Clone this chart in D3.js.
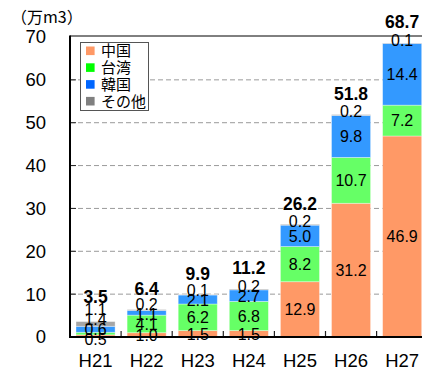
<!DOCTYPE html>
<html>
<head>
<meta charset="utf-8">
<script src="https://cdn.jsdelivr.net/npm/d3@7"></script>
<style>
  html, body { margin: 0; padding: 0; background: #fff; }
  svg { display: block; }
</style>
</head>
<body>
<svg id="chart" width="422" height="371"></svg>
<script>
// Fiscal years (Heisei) and import volumes by origin, in 10,000 m3
const categories = ["H21", "H22", "H23", "H24", "H25", "H26", "H27"];
const china  = [0.5, 1.0, 1.5, 1.5, 12.9, 31.2, 46.9];
const taiwan = [0.6, 4.1, 6.2, 6.8, 8.2, 10.7, 7.2];
const korea  = [1.4, 1.1, 2.1, 2.7, 5.0, 9.8, 14.4];
const other  = [1.1, 0.2, 0.1, 0.2, 0.2, 0.2, 0.1];
const totals = [3.5, 6.4, 9.9, 11.2, 26.2, 51.8, 68.7];
const seriesNames = ["中国", "台湾", "韓国", "その他"];
const yTicks = [0, 10, 20, 30, 40, 50, 60, 70];
const unitLabel = "（万m3）";

const barColors    = ["#FF9966", "#66FF66", "#3399FF", "#A6A6A6"];
const legendColors = ["#FF9966", "#00FF00", "#0066FF", "#808080"];
const numFont = "'Liberation Sans', Arial, sans-serif";
const narrowFont = "'Liberation Sans Narrow', 'Arial Narrow', 'Liberation Sans', sans-serif";
const jpFont = "'Noto Sans CJK JP', sans-serif";

const svg = d3.select("#chart");
const plotLeft = 70, plotTop = 37, plotBottom = 337, bandStep = 51.1;

const x = d3.scaleBand()
  .domain(categories)
  .range([plotLeft, plotLeft + bandStep * categories.length])
  .paddingInner(0.235)
  .paddingOuter(0.1175);

const y = d3.scaleLinear().domain([0, 70]).range([plotBottom, plotTop]);

// Stack the four origins
const rows = categories.map((c, i) => ({
  cat: c, china: china[i], taiwan: taiwan[i], korea: korea[i], other: other[i], total: totals[i]
}));
const keys = ["china", "taiwan", "korea", "other"];
const stacked = d3.stack().keys(keys)(rows);

// Dashed gridlines
svg.append("g")
  .selectAll("line")
  .data(yTicks.filter(v => v > 0 && v < 70))
  .join("line")
  .attr("x1", plotLeft).attr("x2", 422)
  .attr("y1", d => y(d)).attr("y2", d => y(d))
  .attr("stroke", "#9a9a9a")
  .attr("stroke-width", 1)
  .attr("stroke-dasharray", "5,3");

// Bars
svg.append("g")
  .selectAll("g")
  .data(stacked)
  .join("g")
  .attr("fill", (d, i) => barColors[i])
  .selectAll("rect")
  .data(d => d)
  .join("rect")
  .attr("x", d => x(d.data.cat))
  .attr("width", x.bandwidth())
  .attr("y", d => y(d[1]))
  .attr("height", d => y(d[0]) - y(d[1]))
  .attr("stroke", "rgba(255,255,255,0.45)")
  .attr("stroke-width", 0.8);

// Y axis labels and inward ticks
const yAxis = d3.axisLeft(y).tickValues(yTicks).tickSize(0).tickPadding(24);
const yg = svg.append("g").attr("transform", `translate(${plotLeft},0)`).call(yAxis);
yg.select(".domain").remove();
yg.selectAll("text")
  .attr("font-family", numFont)
  .attr("font-size", 18.5)
  .attr("fill", "#000");
svg.append("g")
  .selectAll("line")
  .data(yTicks.filter(v => v > 0 && v < 70))
  .join("line")
  .attr("x1", plotLeft).attr("x2", plotLeft + 6)
  .attr("y1", d => y(d)).attr("y2", d => y(d))
  .attr("stroke", "#222").attr("stroke-width", 1);

// X axis: category labels and inward ticks at band boundaries
const xAxis = d3.axisBottom(x).tickSize(0).tickPadding(17);
const xg = svg.append("g").attr("transform", `translate(0,${plotBottom})`).call(xAxis);
xg.select(".domain").remove();
xg.selectAll("text")
  .attr("font-family", numFont)
  .attr("font-size", 18.5)
  .attr("fill", "#000");
svg.append("g")
  .selectAll("line")
  .data(categories.slice(1))
  .join("line")
  .attr("x1", d => x(d) - x.step() * x.paddingInner() / 2)
  .attr("x2", d => x(d) - x.step() * x.paddingInner() / 2)
  .attr("y1", plotBottom).attr("y2", plotBottom - 6)
  .attr("stroke", "#222").attr("stroke-width", 1.2);

// Plot frame
svg.append("line").attr("x1", plotLeft).attr("x2", 422).attr("y1", plotTop - 1).attr("y2", plotTop - 1)
  .attr("stroke", "#000").attr("stroke-width", 1);
svg.append("line").attr("x1", plotLeft).attr("x2", plotLeft).attr("y1", plotTop - 1.5).attr("y2", plotBottom + 1)
  .attr("stroke", "#000").attr("stroke-width", 2);
svg.append("line").attr("x1", plotLeft - 1).attr("x2", 422).attr("y1", plotBottom).attr("y2", plotBottom)
  .attr("stroke", "#000").attr("stroke-width", 2.2);

// Value labels: segment values at segment centres, the small "other" value at the
// bar top and the bold total above; overlapping labels are spread apart in clusters.
function dodge(items, maxY) {
  const clusters = [];
  items.forEach(it => {
    clusters.push({ members: [it], offs: [0], base: it.want });
    while (clusters.length > 1) {
      const lo = clusters[clusters.length - 2], hi = clusters[clusters.length - 1];
      const loTop = lo.base - lo.offs[lo.offs.length - 1];
      const hiBottom = hi.base;
      const gap = lo.members[lo.members.length - 1].half + hi.members[0].half;
      if (hiBottom > loTop - gap) {
        const startOff = lo.offs[lo.offs.length - 1] + gap;
        hi.offs.forEach(o => lo.offs.push(startOff + o));
        hi.members.forEach(m => lo.members.push(m));
        lo.base = Math.min(d3.mean(lo.members, (m, j) => m.want + lo.offs[j]), maxY);
        clusters.pop();
      } else break;
    }
  });
  clusters.forEach(c => c.members.forEach((m, j) => { m.pos = c.base - c.offs[j]; }));
  return items;
}

const labels = [];
rows.forEach((r, i) => {
  const cx = x(r.cat) + x.bandwidth() / 2;
  const segs = keys.map((k, j) => stacked[j][i]);
  const items = [
    { text: china[i].toFixed(1),  want: y((segs[0][0] + segs[0][1]) / 2), half: 5, bold: false },
    { text: taiwan[i].toFixed(1), want: y((segs[1][0] + segs[1][1]) / 2), half: 5, bold: false },
    { text: korea[i].toFixed(1),  want: y((segs[2][0] + segs[2][1]) / 2), half: 5, bold: false },
    { text: other[i].toFixed(1),  want: y(segs[3][1]) - 3, half: 5, bold: false },
    { text: totals[i].toFixed(1), want: y(segs[3][1]) - 21, half: 7, bold: true }
  ];
  dodge(items, 339).forEach(it => { it.x = cx; labels.push(it); });
});

svg.append("g")
  .selectAll("text")
  .data(labels)
  .join("text")
  .attr("x", d => d.x)
  .attr("y", d => d.pos)
  .attr("dy", "0.36em")
  .attr("text-anchor", "middle")
  .attr("font-family", d => d.bold ? numFont : narrowFont)
  .attr("font-size", d => d.bold ? 17.5 : 16)
  .attr("font-weight", d => d.bold ? "bold" : "normal")
  .attr("fill", "#000")
  .text(d => d.text);

// Unit label
svg.append("text")
  .attr("x", 11).attr("y", 23)
  .attr("font-family", jpFont)
  .attr("font-size", 16)
  .attr("fill", "#000")
  .text(unitLabel);

// Legend
const lg = svg.append("g");
lg.append("rect")
  .attr("x", 80.5).attr("y", 42.5).attr("width", 68).attr("height", 68)
  .attr("fill", "#fff").attr("stroke", "#555").attr("stroke-width", 1);
const li = lg.selectAll("g.item")
  .data(seriesNames)
  .join("g")
  .attr("class", "item")
  .attr("transform", (d, i) => `translate(86,${50.8 + i * 16.8})`);
li.append("rect")
  .attr("x", 0).attr("y", -4.3).attr("width", 8.6).attr("height", 8.6)
  .attr("fill", (d, i) => legendColors[i]);
li.append("text")
  .attr("x", 15).attr("y", 0).attr("dy", "0.36em")
  .attr("font-family", jpFont)
  .attr("font-size", 15)
  .attr("fill", "#000")
  .text(d => d);
</script>
</body>
</html>
